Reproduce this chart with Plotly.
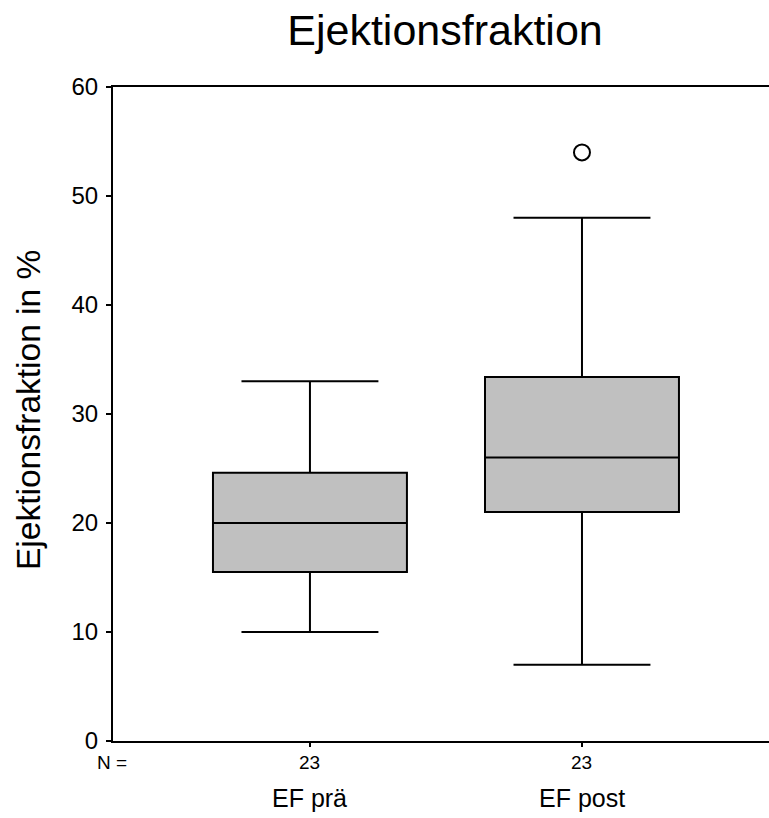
import plotly.graph_objects as go

# ---- data ----
categories = ["EF prä", "EF post"]
n_counts = [23, 23]
q1 = [15.5, 21.0]
median = [20.0, 26.0]
q3 = [24.6, 33.4]
lower_whisker = [10.0, 7.0]
upper_whisker = [33.0, 48.0]
outlier_cat = ["EF post"]
outlier_val = [54.0]
y_ticks = [0, 10, 20, 30, 40, 50, 60]

FONT = "Liberation Sans, Arial, Helvetica, sans-serif"
xpos = list(range(len(categories)))
out_x = [categories.index(c) for c in outlier_cat]

fig = go.Figure()
fig.add_trace(go.Box(
    x=xpos, q1=q1, median=median, q3=q3,
    lowerfence=lower_whisker, upperfence=upper_whisker,
    width=0.713, whiskerwidth=0.706,
    fillcolor="#c0c0c0", line=dict(color="black", width=2),
    boxpoints=False, showlegend=False, hoverinfo="skip",
))
fig.add_trace(go.Scatter(
    x=out_x, y=outlier_val, mode="markers",
    marker=dict(symbol="circle", size=16, color="white",
                line=dict(color="black", width=2)),
    showlegend=False, hoverinfo="skip",
))

fig.update_layout(
    width=769, height=818,
    margin=dict(l=113, r=0, t=87, b=77),
    paper_bgcolor="white", plot_bgcolor="white",
    font=dict(family=FONT, color="black"),
    title=dict(text="Ejektionsfraktion", x=445 / 769, xanchor="center",
               y=1 - 30 / 818, yanchor="middle",
               font=dict(size=43, family=FONT, color="black")),
    xaxis=dict(range=[-0.724, 1.6875], tickvals=xpos, showticklabels=False,
               ticks="outside", ticklen=4, tickwidth=2, tickcolor="black",
               showline=True, linecolor="black", linewidth=2, mirror=True,
               showgrid=False, zeroline=False),
    yaxis=dict(range=[0, 60], tickvals=y_ticks, ticks="outside", ticklen=5,
               tickwidth=2, tickcolor="black", tickfont=dict(size=24),
               showline=True, linecolor="black", linewidth=2, mirror=False,
               showgrid=False, zeroline=False, ticklabelstandoff=3),
)

# y-axis title
fig.add_annotation(text="Ejektionsfraktion in %", textangle=-90,
                   xref="paper", yref="paper", x=(28 - 113) / 656, y=(741 - 410) / 654,
                   xanchor="center", yanchor="middle", showarrow=False,
                   font=dict(size=33.5, family=FONT))
# N = row
fig.add_annotation(text="N =", xref="paper", yref="paper", x=(112 - 113) / 656, y=0,
                   xanchor="center", yanchor="middle", yshift=-21, showarrow=False,
                   font=dict(size=19, family=FONT))
for i, (c, n) in enumerate(zip(categories, n_counts)):
    fig.add_annotation(text=str(n), xref="x", yref="paper", x=i, y=0,
                       xanchor="center", yanchor="middle", yshift=-21, showarrow=False,
                       font=dict(size=19, family=FONT))
    fig.add_annotation(text=c, xref="x", yref="paper", x=i, y=0,
                       xanchor="center", yanchor="middle", yshift=-57, showarrow=False,
                       font=dict(size=25, family=FONT))

fig.write_html("out.html")
